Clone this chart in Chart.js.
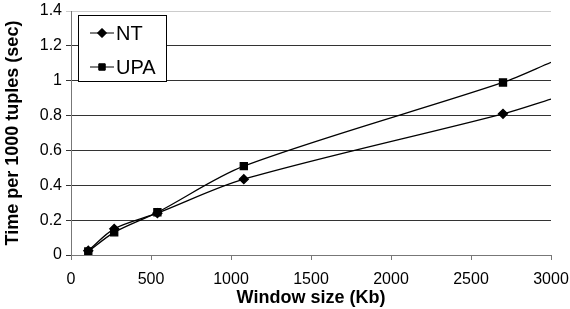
<!DOCTYPE html>
<html>
<head>
<meta charset="utf-8">
<script src="https://cdn.jsdelivr.net/npm/chart.js@4"></script>
<style>
  html, body { margin: 0; padding: 0; background: #fff; }
  #wrap { width: 570px; height: 309px; }
</style>
</head>
<body>
<div id="wrap"><canvas id="chart"></canvas></div>
<script>
// window sizes (Kb) and time per 1000 tuples (sec)
const windowSizes = [108, 270, 540, 1080, 2700, 3000];
const ntTimes = [0.025, 0.15, 0.24, 0.435, 0.81, 0.895];
const upaTimes = [0.02, 0.13, 0.245, 0.51, 0.99, 1.105];
const yTicks = [0, 0.2, 0.4, 0.6, 0.8, 1, 1.2, 1.4];
const xTicks = [0, 500, 1000, 1500, 2000, 2500, 3000];

const FONT = 'Liberation Sans, Arial, sans-serif';

// last entry is only where the line runs out to the axis end, no marker there
function markers(n, r) {
  return windowSizes.map((x, i) => (i === n - 1 ? 0 : r));
}

function toPoints(ys) {
  return windowSizes.map((x, i) => ({ x: x, y: ys[i] }));
}

// boxed legend in the top-left corner of the plot
const boxLegend = {
  id: 'boxLegend',
  afterDraw(chart) {
    const ctx = chart.ctx;
    const a = chart.chartArea;
    const x0 = a.left + 7, y0 = a.top + 4, w = 88, h = 66;
    ctx.save();
    ctx.fillStyle = '#fff';
    ctx.fillRect(x0, y0, w, h);
    ctx.strokeStyle = '#000';
    ctx.lineWidth = 1;
    ctx.strokeRect(x0 + 0.5, y0 + 0.5, w, h);
    const rows = [['NT', 'rectRot', 4.5, y0 + 18], ['UPA', 'rect', 4.5, y0 + 52]];
    rows.forEach(r => {
      ctx.strokeStyle = '#000';
      ctx.beginPath();
      ctx.moveTo(x0 + 12, r[3]);
      ctx.lineTo(x0 + 36, r[3]);
      ctx.stroke();
      ctx.fillStyle = '#000';
      Chart.helpers.drawPoint(ctx, { pointStyle: r[1], radius: r[2], borderWidth: 1 }, x0 + 24, r[3]);
      ctx.fill();
      ctx.font = '20px ' + FONT;
      ctx.textBaseline = 'middle';
      ctx.textAlign = 'left';
      ctx.fillText(r[0], x0 + 38, r[3] + 1);
    });
    ctx.restore();
  }
};

new Chart(document.getElementById('chart'), {
  type: 'line',
  data: {
    datasets: [
      {
        label: 'NT',
        data: toPoints(ntTimes),
        borderColor: '#000',
        backgroundColor: '#000',
        borderWidth: 1.3,
        pointStyle: 'rectRot',
        pointRadius: markers(windowSizes.length, 4.5),
        tension: 0.3
      },
      {
        label: 'UPA',
        data: toPoints(upaTimes),
        borderColor: '#000',
        backgroundColor: '#000',
        borderWidth: 1.3,
        pointStyle: 'rect',
        pointRadius: markers(windowSizes.length, 5),
        tension: 0.3
      }
    ]
  },
  options: {
    responsive: true,
    maintainAspectRatio: false,
    animation: false,
    layout: { padding: { top: 11, right: 19, left: 0, bottom: 0 } },
    plugins: {
      legend: { display: false },
      tooltip: { enabled: false }
    },
    scales: {
      x: {
        type: 'linear',
        min: 0,
        max: 3000,
        afterBuildTicks(s) { s.ticks = xTicks.map(v => ({ value: v })); },
        afterFit(s) { s.height = 54; s.paddingLeft = 0; s.paddingRight = 0; },
        grid: { drawOnChartArea: false, drawTicks: true, tickLength: 5, color: '#777' },
        border: { color: '#777', width: 1 },
        ticks: {
          color: '#000',
          font: { family: FONT, size: 16 },
          padding: 10,
          maxRotation: 0,
          callback: v => String(v)
        },
        title: {
          display: true,
          text: 'Window size (Kb)',
          color: '#000',
          font: { family: FONT, size: 18, weight: 'bold' },
          padding: { top: -7, bottom: 0 }
        }
      },
      y: {
        min: 0,
        max: 1.4,
        afterBuildTicks(s) { s.ticks = yTicks.map(v => ({ value: v })); },
        afterFit(s) { s.width = 71; s.paddingTop = 0; s.paddingBottom = 0; },
        grid: {
          drawTicks: true,
          tickLength: 5,
          color: c => (c.tick && c.tick.value === 1.4 ? '#ccc' : '#333')
        },
        border: { color: '#777', width: 1 },
        ticks: {
          color: '#000',
          font: { family: FONT, size: 16 },
          padding: 4,
          callback: v => String(Math.round(v * 10) / 10)
        },
        title: {
          display: true,
          text: 'Time per 1000 tuples (sec)',
          color: '#000',
          font: { family: FONT, size: 18, weight: 'bold' },
          padding: { top: 2, bottom: 0 }
        }
      }
    }
  },
  plugins: [boxLegend]
});
</script>
</body>
</html>
